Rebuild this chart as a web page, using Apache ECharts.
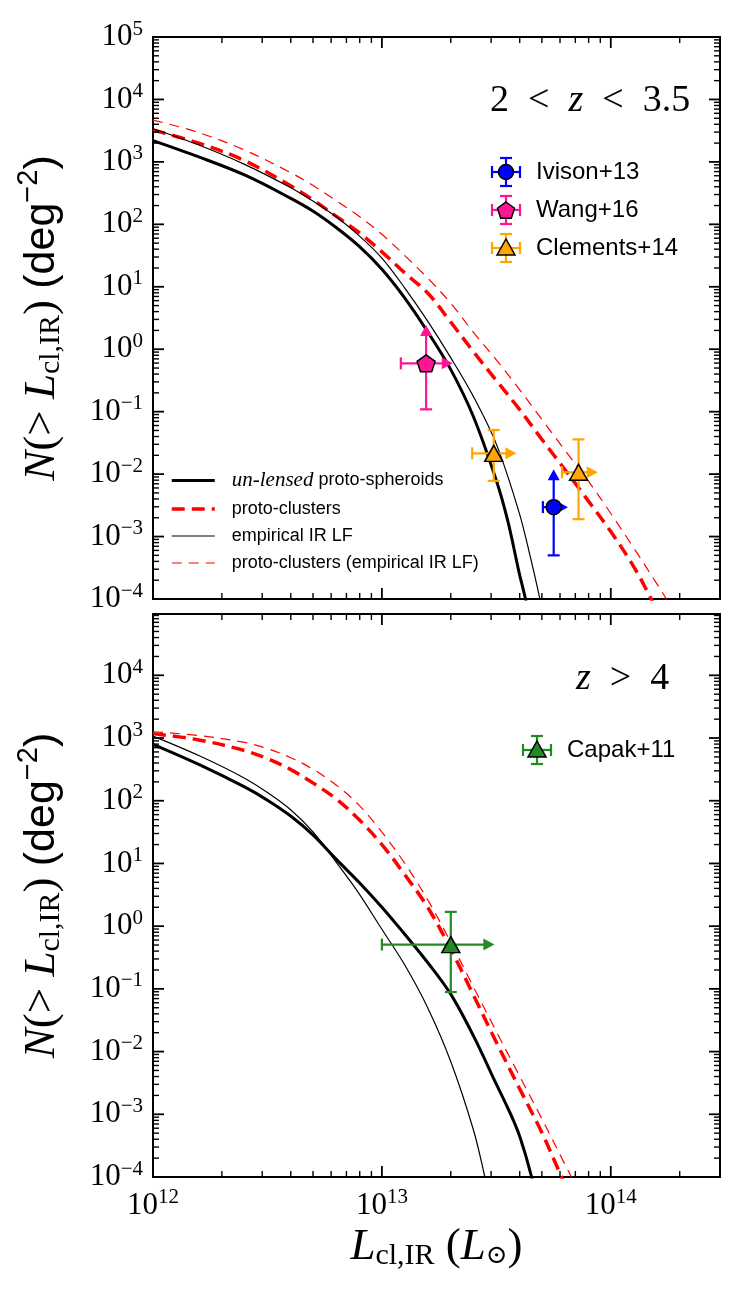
<!DOCTYPE html>
<html>
<head>
<meta charset="utf-8">
<script src="https://cdn.jsdelivr.net/npm/echarts@6/dist/echarts.min.js"></script>
<style>
html,body{margin:0;padding:0;background:#fff;}
#main{width:746px;height:1294px;}
</style>
</head>
<body>
<div id="main"></div>
<script>
// ---- curves, top panel (2 < z < 3.5) : [L_cl,IR , N(>L)]
var topUnlensed = [[1e12,2190],[1.585e12,1200],[2.512e12,617],[3.981e12,263],[5.012e12,162],[6.31e12,89],[7.943e12,44.7],[1e13,19.1],[1.259e13,6.6],[1.585e13,1.9],[1.995e13,0.48],[2.512e13,0.083],[3.162e13,7.9e-3],[3.548e13,1.78e-3],[3.981e13,2.6e-4],[4.24e13,1e-4],[4.467e13,3.5e-5]];
var topEmpirical = [[1e12,3390],[1.585e12,1860],[2.512e12,912],[3.981e12,389],[5.012e12,234],[6.31e12,132],[7.943e12,66],[1e13,28.8],[1.259e13,9.55],[1.585e13,2.82],[1.995e13,0.741],[2.512e13,0.174],[3.162e13,0.0302],[3.981e13,2.4e-3],[4.467e13,4.47e-4],[4.9e13,1e-4],[5.13e13,4e-5]];
var topClusters = [[1e12,3236],[1.585e12,1995],[2.512e12,1047],[3.981e12,417],[5.012e12,245],[6.31e12,135],[7.943e12,74],[1e13,36.3],[1.259e13,16.6],[1.585e13,7.94],[1.995e13,2.75],[2.512e13,0.912],[3.162e13,0.316],[3.981e13,0.11],[5.012e13,0.0355],[6.31e13,0.01175],[7.943e13,3.8e-3],[1e14,1.2e-3],[1.259e14,3.31e-4],[1.5e14,1e-4],[1.585e14,6.3e-5]];
var topClustersEmp = [[1e12,4677],[1.585e12,2951],[2.512e12,1549],[3.981e12,676],[5.012e12,417],[6.31e12,240],[7.943e12,135],[1e13,69.2],[1.259e13,31.6],[1.585e13,13.8],[1.995e13,5.5],[2.512e13,1.86],[3.162e13,0.676],[3.981e13,0.229],[5.012e13,0.0741],[6.31e13,0.024],[7.943e13,7.94e-3],[1e14,2.34e-3],[1.259e14,6.6e-4],[1.585e14,1.78e-4],[1.75e14,1e-4],[1.862e14,6.6e-5]];

// ---- curves, bottom panel (z > 4)
var botUnlensed = [[1e12,794],[1.585e12,380],[2.512e12,166],[3.162e12,102],[3.981e12,57.5],[5.012e12,28.2],[6.31e12,11.7],[7.943e12,5.01],[1e13,2.0],[1.259e13,0.741],[1.585e13,0.263],[1.995e13,0.0832],[2.512e13,0.0178],[3.162e13,3.02e-3],[3.548e13,1.26e-3],[3.758e13,7.9e-4],[3.981e13,4.68e-4],[4.12e13,3.16e-4],[4.266e13,2.1e-4],[4.51e13,1e-4],[4.677e13,6.3e-5]];
var botEmpirical = [[1e12,1072],[1.585e12,525],[2.512e12,229],[3.162e12,135],[3.981e12,72.4],[5.012e12,31.6],[6.31e12,10.5],[7.943e12,3.31],[1e13,0.891],[1.259e13,0.24],[1.585e13,0.0501],[1.995e13,7.08e-3],[2.512e13,5.62e-4],[2.818e13,1e-4],[2.951e13,4.5e-5]];
var botClusters = [[1e12,1175],[1.585e12,933],[2.512e12,631],[3.162e12,468],[3.981e12,316],[5.012e12,191],[6.31e12,107],[7.943e12,50.1],[1e13,20],[1.259e13,6.61],[1.585e13,2.0],[1.995e13,0.437],[2.512e13,0.0794],[3.162e13,0.0141],[3.981e13,2.63e-3],[5.012e13,5.01e-4],[6.095e13,1e-4],[6.457e13,6.3e-5]];
var botClustersEmp = [[1e12,1259],[1.585e12,1096],[2.512e12,851],[3.162e12,676],[3.981e12,490],[5.012e12,316],[6.31e12,178],[7.943e12,85.1],[1e13,31.6],[1.259e13,10],[1.585e13,2.63],[1.995e13,0.562],[2.512e13,0.107],[3.162e13,0.0209],[3.981e13,4.17e-3],[5.012e13,8.32e-4],[6.31e13,1.58e-4],[6.73e13,1e-4],[7.08e13,7.1e-5]];

// ---- observations: [x, y, xlo, xhi, ylo, yhi, x arrow, y arrow]
var ivison13 = [[5.63e13,2.96e-3,5.05e13,6.5e13,5.0e-4,1.2e-2,1,1]];
var wang16 = [[1.56e13,0.594,1.21e13,2.04e13,0.109,2.44,1,1]];
var clements14 = [[3.08e13,0.0215,2.48e13,3.87e13,7.8e-3,0.0508,1,0],[7.23e13,0.0107,6.12e13,8.77e13,1.9e-3,0.036,1,0]];
var capak11 = [[2.0e13,0.508,1.0e13,3.1e13,0.089,1.69,1,0]];

// ---- axis ticks
var xMajor = [1e12,1e13,1e14];
var yMajorTop = [1e-4,1e-3,1e-2,1e-1,1,10,100,1e3,1e4,1e5];
var yMajorBot = [1e-4,1e-3,1e-2,1e-1,1,10,100,1e3,1e4];
var xMax = 3e14, yMaxTop = 1e5, yMaxBot = 9.5e4;

var BLUE = '#0000ff', PINK = '#ff1493', ORANGE = '#ffa500', GREEN = '#228b22', RED = '#ff0000';
var PENTAGON = 'path://M0,-1L0.951,-0.309L0.588,0.809L-0.588,0.809L-0.951,-0.309Z';

function minorOf(majors, maxVal) {
	var out = [];
	for (var i = 0; i < majors.length; i++) {
		for (var k = 2; k <= 9; k++) {
			var v = majors[i] * k;
			if (v < maxVal) out.push(v);
		}
	}
	return out;
}

// tick data: [x, y, kind(0=x,1=y), major]
function tickData(yMajor, yMax) {
	var d = [], i;
	var xm = minorOf(xMajor, xMax), ym = minorOf(yMajor, yMax);
	for (i = 0; i < xMajor.length; i++) d.push([xMajor[i], 1, 0, 1]);
	for (i = 0; i < xm.length; i++) d.push([xm[i], 1, 0, 0]);
	for (i = 0; i < yMajor.length; i++) d.push([1e13, yMajor[i], 1, 1]);
	for (i = 0; i < ym.length; i++) d.push([1e13, ym[i], 1, 0]);
	return d;
}

function renderTick(params, api) {
	var cs = params.coordSys;
	var p = api.coord([api.value(0), api.value(1)]);
	var major = api.value(3) == 1;
	var len = major ? 11 : 6;
	var w = major ? 1.8 : 1.4;
	var a, b;
	if (api.value(2) == 0) {
		a = {x1: p[0], y1: cs.y + cs.height, x2: p[0], y2: cs.y + cs.height - len};
		b = {x1: p[0], y1: cs.y, x2: p[0], y2: cs.y + len};
	} else {
		a = {x1: cs.x, y1: p[1], x2: cs.x + len, y2: p[1]};
		b = {x1: cs.x + cs.width, y1: p[1], x2: cs.x + cs.width - len, y2: p[1]};
	}
	return {type: 'group', children: [
		{type: 'line', shape: a, style: {stroke: '#000', lineWidth: w}},
		{type: 'line', shape: b, style: {stroke: '#000', lineWidth: w}}
	]};
}

// error bars with caps, arrows mark limits
function errorBar(color) {
	return function (params, api) {
		var c = api.coord([api.value(0), api.value(1)]);
		var xl = api.coord([api.value(2), api.value(1)])[0];
		var xr = api.coord([api.value(3), api.value(1)])[0];
		var yb = api.coord([api.value(0), api.value(4)])[1];
		var yt = api.coord([api.value(0), api.value(5)])[1];
		var ax = api.value(6) == 1, ay = api.value(7) == 1;
		var L = 11, W = 6, cap = 6;
		var st = function () { return {stroke: color, lineWidth: 2.2}; };
		var kids = [];
		kids.push({type: 'line', shape: {x1: xl, y1: c[1], x2: ax ? xr - L + 1 : xr, y2: c[1]}, style: st()});
		kids.push({type: 'line', shape: {x1: c[0], y1: yb, x2: c[0], y2: ay ? yt + L - 1 : yt}, style: st()});
		kids.push({type: 'line', shape: {x1: xl, y1: c[1] - cap, x2: xl, y2: c[1] + cap}, style: st()});
		kids.push({type: 'line', shape: {x1: c[0] - cap, y1: yb, x2: c[0] + cap, y2: yb}, style: st()});
		if (ax) {
			kids.push({type: 'polygon', shape: {points: [[xr, c[1]], [xr - L, c[1] - W], [xr - L, c[1] + W]]}, style: {fill: color}});
		} else {
			kids.push({type: 'line', shape: {x1: xr, y1: c[1] - cap, x2: xr, y2: c[1] + cap}, style: st()});
		}
		if (ay) {
			kids.push({type: 'polygon', shape: {points: [[c[0], yt], [c[0] - W, yt + L], [c[0] + W, yt + L]]}, style: {fill: color}});
		} else {
			kids.push({type: 'line', shape: {x1: c[0] - cap, y1: yt, x2: c[0] + cap, y2: yt}, style: st()});
		}
		return {type: 'group', children: kids};
	};
}

function powLabel(v) {
	var e = Math.log10(v);
	var r = Math.round(e);
	if (Math.abs(e - r) > 1e-6) return '';
	return '{b|10}{s|' + (r < 0 ? '\u2212' + (-r) : r) + '}';
}

var labelRich = {
	b: {fontFamily: 'Liberation Serif', fontSize: 31, color: '#000'},
	s: {fontFamily: 'Liberation Serif', fontSize: 21, color: '#000', padding: [0, 0, 16, 0]}
};

var nameRich = {
	i: {fontFamily: 'Liberation Serif', fontStyle: 'italic', fontSize: 45, color: '#000'},
	r: {fontFamily: 'Liberation Serif', fontSize: 45, color: '#000'},
	sub: {fontFamily: 'Liberation Serif', fontSize: 30, color: '#000', padding: [18, 0, 0, 0]},
	sun: {fontFamily: 'DejaVu Serif', fontSize: 26, color: '#000', padding: [18, 0, 0, 0]},
	s: {fontFamily: 'Liberation Sans', fontSize: 43, color: '#000'},
	sup: {fontFamily: 'Liberation Sans', fontSize: 29, color: '#000', padding: [0, 0, 28, 0]}
};
var yName = '{i|N}{r|(> }{i|L}{sub|cl,IR}{r|) }{s|(deg}{sup|\u22122}{s|)}';

function xAxisOf(gi, withLabels) {
	return {
		type: 'log', logBase: 10, gridIndex: gi, min: 1e12, max: xMax, interval: 1,
		axisLine: {show: false}, axisTick: {show: false}, splitLine: {show: false},
		axisLabel: {show: withLabels, formatter: powLabel, margin: 10, rich: labelRich},
		name: withLabels ? '{i|L}{sub|cl,IR}{r| (}{i|L}{sun|\u2299}{r|)}' : '',
		nameLocation: 'middle', nameGap: 46, nameTextStyle: {rich: nameRich}
	};
}
function yAxisOf(gi, yMax) {
	return {
		type: 'log', logBase: 10, gridIndex: gi, min: 1e-4, max: yMax, interval: 1,
		axisLine: {show: false}, axisTick: {show: false}, splitLine: {show: false},
		axisLabel: {formatter: powLabel, margin: 10, rich: labelRich},
		name: yName, nameLocation: 'middle', nameRotate: 90, nameGap: 82,
		nameTextStyle: {rich: nameRich}
	};
}

function curve(name, data, gi, color, width, dash) {
	return {
		type: 'line', name: name, data: data, xAxisIndex: gi, yAxisIndex: gi,
		symbol: 'none', showSymbol: false, smooth: 0.35, z: 2, silent: true,
		lineStyle: {color: color, width: width, type: dash}, itemStyle: {color: color}
	};
}

function points(data, gi, color, symbol, size) {
	return [{
		type: 'custom', data: data, xAxisIndex: gi, yAxisIndex: gi, z: 3, silent: true,
		encode: {x: 0, y: 1}, renderItem: errorBar(color)
	}, {
		type: 'scatter', data: data, xAxisIndex: gi, yAxisIndex: gi, z: 4, silent: true,
		symbol: symbol, symbolSize: size,
		itemStyle: {color: color, borderColor: '#000', borderWidth: 1.5, opacity: 1}
	}];
}

// legend icons for the observations (drawn as graphic)
function legendEntry(cx, cy, color, shape, label) {
	var st = function () { return {stroke: color, lineWidth: 2.2}; };
	var kids = [
		{type: 'line', shape: {x1: cx - 14, y1: cy, x2: cx + 14, y2: cy}, style: st()},
		{type: 'line', shape: {x1: cx, y1: cy - 14, x2: cx, y2: cy + 14}, style: st()},
		{type: 'line', shape: {x1: cx - 14, y1: cy - 6, x2: cx - 14, y2: cy + 6}, style: st()},
		{type: 'line', shape: {x1: cx + 14, y1: cy - 6, x2: cx + 14, y2: cy + 6}, style: st()},
		{type: 'line', shape: {x1: cx - 6, y1: cy - 14, x2: cx + 6, y2: cy - 14}, style: st()},
		{type: 'line', shape: {x1: cx - 6, y1: cy + 14, x2: cx + 6, y2: cy + 14}, style: st()}
	];
	var mk = {fill: color, stroke: '#000', lineWidth: 1.5};
	if (shape == 'circle') {
		kids.push({type: 'circle', shape: {cx: cx, cy: cy, r: 7.5}, style: mk});
	} else if (shape == 'pentagon') {
		var pts = [];
		for (var k = 0; k < 5; k++) {
			var a = -Math.PI / 2 + k * 2 * Math.PI / 5;
			pts.push([cx + 9 * Math.cos(a), cy + 1 + 9 * Math.sin(a)]);
		}
		kids.push({type: 'polygon', shape: {points: pts}, style: mk});
	} else {
		kids.push({type: 'polygon', shape: {points: [[cx, cy - 9], [cx + 9, cy + 7], [cx - 9, cy + 7]]}, style: mk});
	}
	kids.push({type: 'text', x: cx + 30, y: cy, style: {text: label, font: '24px "Liberation Sans"', fill: '#000', verticalAlign: 'middle'}});
	return {type: 'group', children: kids};
}

var series = [
	curve('un-lensed proto-spheroids', topUnlensed, 0, '#000', 3, 'solid'),
	curve('proto-clusters', topClusters, 0, RED, 3.5, [13, 7]),
	curve('empirical IR LF', topEmpirical, 0, '#000', 1.2, 'solid'),
	curve('proto-clusters (empirical IR LF)', topClustersEmp, 0, RED, 1.2, [10, 7]),
	curve('b1', botUnlensed, 1, '#000', 3, 'solid'),
	curve('b2', botClusters, 1, RED, 3.5, [13, 7]),
	curve('b3', botEmpirical, 1, '#000', 1.2, 'solid'),
	curve('b4', botClustersEmp, 1, RED, 1.2, [10, 7])
];
series = series.concat(
	points(wang16, 0, PINK, PENTAGON, [18, 17]),
	points(clements14, 0, ORANGE, 'triangle', [18, 16]),
	points(ivison13, 0, BLUE, 'circle', 15),
	points(capak11, 1, GREEN, 'triangle', [18, 16])
);
series.push({type: 'custom', data: tickData(yMajorTop, yMaxTop), xAxisIndex: 0, yAxisIndex: 0, encode: {x: 0, y: 1}, renderItem: renderTick, z: 6, silent: true});
series.push({type: 'custom', data: tickData(yMajorBot, yMaxBot), xAxisIndex: 1, yAxisIndex: 1, encode: {x: 0, y: 1}, renderItem: renderTick, z: 6, silent: true});

var panelRich = {
	n: {fontFamily: 'Liberation Serif', fontSize: 38, fontWeight: 'normal', color: '#000'},
	i: {fontFamily: 'Liberation Serif', fontStyle: 'italic', fontSize: 38, fontWeight: 'normal', color: '#000'}
};

var myChart = echarts.init(document.getElementById('main'));
var option = {
	backgroundColor: '#fff',
	animation: false,
	grid: [
		{left: 153, top: 37, width: 567, height: 562, show: true, borderColor: '#000', borderWidth: 2, backgroundColor: 'transparent'},
		{left: 153, top: 614, width: 567, height: 563, show: true, borderColor: '#000', borderWidth: 2, backgroundColor: 'transparent'}
	],
	xAxis: [xAxisOf(0, false), xAxisOf(1, true)],
	yAxis: [yAxisOf(0, yMaxTop), yAxisOf(1, yMaxBot)],
	title: [
		{text: '{n|2\u2002<\u2002}{i|z}{n|\u2002<\u20023.5}', left: 490, top: 82, padding: 0,
			textStyle: {fontWeight: 'normal', rich: panelRich}},
		{text: '{i|z}{n|\u2002>\u20024}', left: 576, top: 660, padding: 0,
			textStyle: {fontWeight: 'normal', rich: panelRich}}
	],
	legend: [{
		data: ['un-lensed proto-spheroids', 'proto-clusters', 'empirical IR LF', 'proto-clusters (empirical IR LF)'],
		orient: 'vertical', left: 170, top: 470, padding: 0,
		itemWidth: 43, itemHeight: 20, itemGap: 9, selectedMode: false,
		itemStyle: {opacity: 0},
		lineStyle: {width: 'inherit', type: 'inherit', opacity: 1},
		textStyle: {fontFamily: 'Liberation Sans', fontSize: 18, color: '#000', padding: [0, 0, 0, 12],
			rich: {it: {fontFamily: 'Liberation Serif', fontStyle: 'italic', fontSize: 21, color: '#000'},
				n: {fontFamily: 'Liberation Sans', fontSize: 18, color: '#000'}}},
		formatter: function (n) {
			return n == 'un-lensed proto-spheroids' ? '{it|un-lensed} {n|proto-spheroids}' : n;
		}
	}],
	graphic: [
		legendEntry(506, 172, BLUE, 'circle', 'Ivison+13'),
		legendEntry(506, 210, PINK, 'pentagon', 'Wang+16'),
		legendEntry(506, 248, ORANGE, 'triangle', 'Clements+14'),
		legendEntry(537, 750, GREEN, 'triangle', 'Capak+11')
	],
	series: series
};
myChart.setOption(option);
</script>
</body>
</html>
